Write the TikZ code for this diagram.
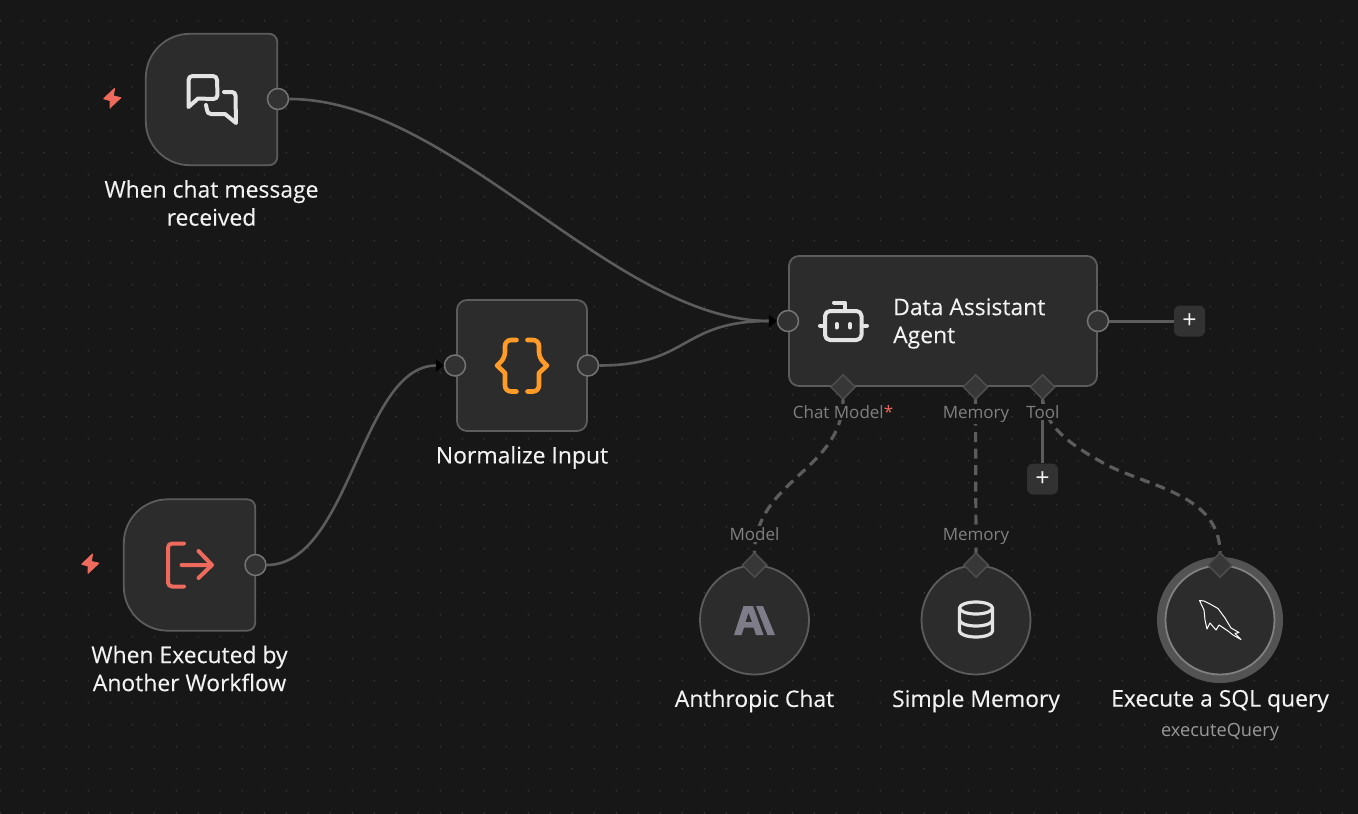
\documentclass[tikz,border=0pt]{standalone}
\usepackage{fontspec}
\usepackage{xcolor}
\usepackage{tikz}
\usetikzlibrary{shapes.geometric}
\usetikzlibrary{arrows.meta}
\setmainfont{Open Sans}
\definecolor{canvas}{HTML}{171717}
\definecolor{griddot}{HTML}{3C3C3C}
\definecolor{panel}{HTML}{2C2C2C}
\definecolor{edgeline}{HTML}{5C5C5C}
\definecolor{titletext}{HTML}{F2F2F2}
\definecolor{porttext}{HTML}{808080}
\definecolor{subtext}{HTML}{9A9A9A}
\definecolor{icongray}{HTML}{E4E4E4}
\definecolor{boltred}{HTML}{EE6A5C}
\definecolor{bracegold}{HTML}{FF9B26}
\definecolor{logogray}{HTML}{7E7C88}
\newcommand{\triggerbody}[1]{
	\draw[draw=edgeline,fill=panel,line width=1.8pt,rounded corners=8pt] (#1.north east) -- (#1.south east)
	[rounded corners=44pt] -- (#1.south west) -- (#1.north west)
	[rounded corners=8pt] -- cycle;
}
\newcommand{\boltmark}[2]{
	\filldraw[boltred,line width=1pt,line join=round,shift={(#1,#2)}] (2.5,-9.5) -- (-8.2,0.7) -- (-1.7,2.6) -- (-2,9.8) -- (8.8,-0.3) -- (1.3,-2) -- cycle;
}
\begin{document}
\begin{tikzpicture}[x=1pt,y=-1pt,
	main node/.style={rectangle,draw=edgeline,fill=panel,line width=1.8pt,rounded corners=10pt,inner sep=0pt},
	trigger node/.style={rectangle,minimum width=131pt,minimum height=131pt,inner sep=0pt},
	round node/.style={circle,draw=edgeline,fill=panel,line width=1.8pt,minimum size=109pt,inner sep=0pt},
	port node/.style={circle,draw=edgeline!85!white,fill=panel!97!white,line width=1.5pt,minimum size=21pt,inner sep=0pt},
	socket node/.style={diamond,draw=edgeline!85!black,fill=panel!95!white,line width=1.5pt,minimum size=25pt,inner sep=0pt},
	plus node/.style={rectangle,fill=panel!97!white,rounded corners=6pt,minimum size=31pt,inner sep=0pt,text=titletext,font=\fontsize{25}{25}\selectfont},
	title node/.style={text=titletext,align=center,inner sep=0pt,font=\fontsize{22.9}{28}\selectfont\addfontfeatures{FakeBold=0.15}},
	port text/.style={text=porttext,fill=canvas,inner sep=1.5pt,anchor=base,font=\fontsize{17}{18}\selectfont},
	flow/.style={draw=edgeline,line width=2.6pt},
	arrow flow/.style={flow,-{Triangle[length=8pt,width=12pt,black]}},
	tool line/.style={draw=edgeline,line width=3.2pt,dash pattern=on 10pt off 6.5pt},
	icon line/.style={draw=icongray,line width=4pt,line cap=round,line join=round}]

	\useasboundingbox (0,0) rectangle (1358,814);
	\fill[canvas] (0,0) rectangle (1358,814);
	\foreach \i in {0,...,61}
		\foreach \j in {0,...,37}
			\fill[griddot] (0.3+22*\i,-1.3+22*\j) circle (0.8pt);

	% workflow nodes
	\node[trigger node] (1) at (211.5,99.5) {};
	\triggerbody{1}
	\node[trigger node] (2) at (189.5,565) {};
	\triggerbody{2}
	\node[main node,minimum width=130pt,minimum height=131pt] (3) at (522,365.5) {};
	\node[main node,minimum width=308pt,minimum height=130pt] (4) at (943,321) {};
	\node[round node] (5) at (754.5,620) {};
	\node[round node] (6) at (976,620) {};
	\node[circle,fill=edgeline!90!black,minimum size=126pt,inner sep=0pt] (7) at (1220,620) {};
	\node[round node,draw=edgeline!78!white] (8) at (1220,620) {};

	% ports
	\node[port node] (1o) at (278,99) {};
	\node[port node] (2o) at (255.5,565) {};
	\node[port node] (3i) at (455,365.5) {};
	\node[port node] (3o) at (588,365.5) {};
	\node[port node] (4i) at (788,321) {};
	\node[port node] (4o) at (1098,321) {};
	\node[plus node] (p1) at (1189.5,321) {+};
	\node[plus node] (p2) at (1042.5,479) {+};

	% sockets
	\coordinate (a1) at (843,399);
	\coordinate (a2) at (975.5,399);
	\coordinate (a3) at (1042.5,399);
	\coordinate (b1) at (754.5,553);
	\coordinate (b2) at (976,553);
	\coordinate (b3) at (1220,553);

	\draw[arrow flow] (1o.east) .. controls (453,99) and (614,321) .. (4i.west);
	\draw[arrow flow] (2o.east) .. controls (350,565) and (361,365.5) .. (3i.west);
	\draw[arrow flow] (3o.east) .. controls (690,365.5) and (680,321) .. (4i.west);
	\draw[flow,line width=3pt] (4o.east) -- (p1.west);
	\draw[flow,line width=3pt] (a3) -- (p2.north);
	\draw[tool line] (a1) .. controls (843,470) and (755,480) .. (b1);
	\draw[tool line] (a2) -- (b2);
	\draw[tool line] (a3) .. controls (1046,420) and (1055,437) .. (1107,465) .. controls (1150,487) and (1220,495) .. (b3);

	\node[socket node] (s1) at (843,387) {};
	\node[socket node] (s2) at (975.5,387) {};
	\node[socket node] (s3) at (1042.5,387) {};
	\node[socket node] (s4) at (754.5,565) {};
	\node[socket node] (s5) at (976,565) {};
	\node[socket node] (s6) at (1220,565) {};

	\node[port text] (l1) at (843,418) {Chat Model\textcolor{boltred}{*}};
	\node[port text] (l2) at (976,418) {Memory};
	\node[port text] (l3) at (1043,418) {Tool};
	\node[port text] (l4) at (754.5,540) {Model};
	\node[port text] (l5) at (976,540) {Memory};

	% labels
	\node[title node] (t1) at (211.5,203) {When chat message\\received};
	\node[title node] (t2) at (189.5,668.5) {When Executed by\\Another Workflow};
	\node[title node] (t3) at (522,457.5) {Normalize Input};
	\node[title node,align=left,anchor=west] (t4) at (893,323.5) {Data Assistant\\Agent};
	\node[title node] (t5) at (754.5,701) {Anthropic Chat};
	\node[title node] (t6) at (976,701) {Simple Memory};
	\node[title node] (t7) at (1220,701) {Execute a SQL query};
	\node[text=subtext,inner sep=0pt,font=\fontsize{18.2}{20}\selectfont] (t8) at (1220,732) {executeQuery};

	% icons
	\boltmark{112}{98}
	\boltmark{90}{563.5}
	\draw[icon line] (188.5,107) -- (188.5,80) arc[start angle=180,end angle=90,radius=4pt] -- (213,76) arc[start angle=90,end angle=0,radius=4pt] -- (217.5,95) arc[start angle=0,end angle=-90,radius=4pt] -- (198,98.5) -- cycle;
	\draw[icon line] (224,92) -- (232,92) arc[start angle=90,end angle=0,radius=3.5pt] -- (236,123) -- (225,114) -- (211,114) arc[start angle=-90,end angle=-180,radius=4pt] -- (206,105);
	\draw[icon line,draw=boltred] (184,543.5) -- (172,543.5) arc[start angle=90,end angle=180,radius=4pt] -- (168,582.5) arc[start angle=180,end angle=270,radius=4pt] -- (184,586.5);
	\draw[icon line,draw=boltred] (181.5,565) -- (212,565) (198.5,551) -- (212,565) -- (198.5,578);
	\draw[icon line,draw=bracegold,line width=4.6pt,rounded corners=6pt] (516.5,340) -- (505,340) -- (505,358) [sharp corners] -- (497,365.5) -- (505,373) [rounded corners=6pt] -- (505,391.5) -- (516.5,391.5);
	\draw[icon line,draw=bracegold,line width=4.6pt,rounded corners=6pt] (527.5,340) -- (539,340) -- (539,358) [sharp corners] -- (547,365.5) -- (539,373) [rounded corners=6pt] -- (539,391.5) -- (527.5,391.5);
	\draw[icon line,rounded corners=5pt] (825,311) rectangle (861.5,340);
	\draw[icon line] (845,311) -- (845,302.5) -- (834,302.5);
	\draw[icon line] (820,325.5) -- (823,325.5) (864,325.5) -- (867,325.5);
	\draw[icon line] (836.5,324) -- (836.5,327.5) (850,324) -- (850,327.5);
	\draw[icon line,line width=3.2pt] (976,608) ellipse (16.5pt and 6pt);
	\draw[icon line,line width=3.2pt] (959.5,608) -- (959.5,631) arc[start angle=180,end angle=360,x radius=16.5pt,y radius=6pt] -- (992.5,608);
	\draw[icon line,line width=3.2pt] (959.5,620) arc[start angle=180,end angle=360,x radius=16.5pt,y radius=6pt];
	\fill[logogray,even odd rule] (743.5,606) -- (753,606) -- (763.5,635) -- (756,635) -- (753.5,627.5) -- (744,627.5) -- (741.5,635) -- (734,635) -- cycle (748.5,612.5) -- (745.5,622) -- (752,622) -- cycle;
	\fill[logogray] (756,606) -- (763,606) -- (775,635) -- (767.5,635) -- cycle;
	\draw[white,line width=1pt,line join=round] (1199.5,600.5) -- (1204,601) -- (1210,604) -- (1218,608.5) -- (1225,618) -- (1231,628) -- (1239,632.5) -- (1235,633.5) -- (1241,639.5) -- (1233,635) -- (1228,631) -- (1219,625) -- (1216,630) -- (1210,623) -- (1207,629) -- (1205,620) -- (1204,610) -- cycle;
\end{tikzpicture}
\end{document}
